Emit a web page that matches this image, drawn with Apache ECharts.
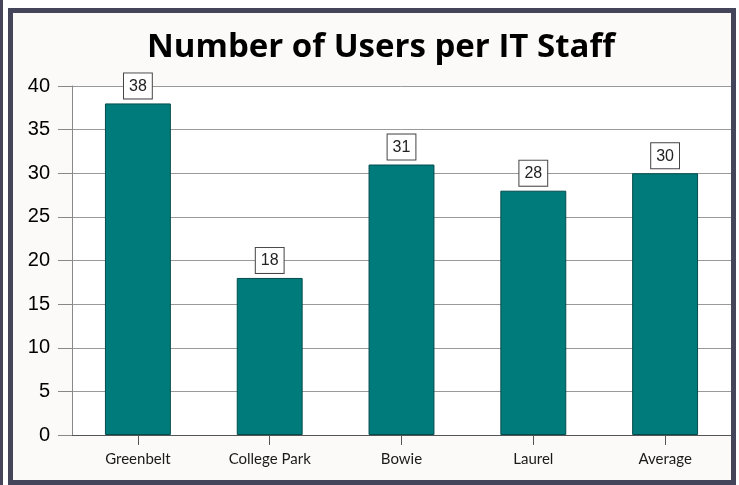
<!DOCTYPE html>
<html>
<head>
<meta charset="utf-8">
<script src="https://cdn.jsdelivr.net/npm/echarts@6/dist/echarts.min.js"></script>
<style>
html,body{margin:0;padding:0;background:#ffffff;}
#line{position:absolute;left:0;top:0;width:3px;height:485px;background:#44445a;}
#frame{position:absolute;left:8px;top:8px;width:728px;height:477px;box-sizing:border-box;border:5px solid #44445a;background:#fbfaf8;}
#chart{position:absolute;left:0;top:0;width:739px;height:485px;}
</style>
</head>
<body>
<div id="line"></div>
<div id="frame"></div>
<div id="chart"></div>
<script>
const titleText = "Number of Users per IT Staff";
const categories = ["Greenbelt", "College Park", "Bowie", "Laurel", "Average"];
const usersPerStaff = [38, 18, 31, 28, 30];
const yTicks = { min: 0, max: 40, interval: 5 };

const chart = echarts.init(document.getElementById('chart'), null, { renderer: 'canvas' });
chart.setOption({
  backgroundColor: 'transparent',
  animation: false,
  title: {
    text: titleText,
    left: 142,
    top: 26,
    textStyle: { fontFamily: 'Open Sans', fontWeight: 'bold', fontSize: 33, color: '#000000' }
  },
  grid: {
    left: 72, right: 8, top: 86, bottom: 50,
    show: true, backgroundColor: '#ffffff', borderWidth: 0
  },
  xAxis: {
    type: 'category',
    data: categories,
    axisLine: { show: true, lineStyle: { color: '#555555', width: 1 } },
    axisTick: { show: true, alignWithLabel: true, length: 10, lineStyle: { color: '#555555' } },
    axisLabel: { fontFamily: 'Lato', fontSize: 15, color: '#1a1a1a', margin: 17 },
    splitLine: { show: false }
  },
  yAxis: {
    type: 'value',
    min: yTicks.min, max: yTicks.max, interval: yTicks.interval,
    axisLine: { show: true, lineStyle: { color: '#888888', width: 1 } },
    axisTick: { show: true, length: 14, lineStyle: { color: '#888888' } },
    axisLabel: { fontFamily: 'Liberation Sans', fontSize: 20, color: '#000000', margin: 22 },
    splitLine: { show: true, lineStyle: { color: '#999999', width: 1 } }
  },
  series: [{
    type: 'bar',
    data: usersPerStaff,
    barWidth: '50%',
    itemStyle: { color: '#007b7b', borderColor: '#004c4c', borderWidth: 1 },
    label: {
      show: true, position: 'top', distance: 5,
      fontFamily: 'Liberation Sans', fontSize: 16, color: '#222222',
      backgroundColor: '#ffffff', borderColor: '#444444', borderWidth: 1,
      padding: [5, 5, 4, 5]
    }
  }]
});
</script>
</body>
</html>
